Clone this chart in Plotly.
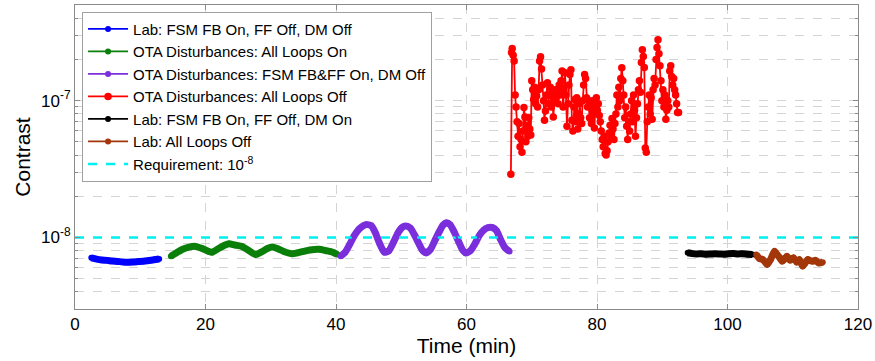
import plotly.graph_objects as go

# ---------------- data ----------------
blue_t = [2.5, 3.3, 4.1, 4.9, 5.7, 6.5, 7.3, 8.1, 8.9, 9.7, 10.5, 11.3, 12.1, 12.9]
blue_v = [7.1e-9, 6.95e-9, 6.85e-9, 6.8e-9, 6.72e-9, 6.68e-9, 6.62e-9, 6.6e-9, 6.62e-9,
          6.66e-9, 6.7e-9, 6.78e-9, 6.86e-9, 6.95e-9]

green_t = [14.7, 15.5, 16.5, 17.5, 18.5, 19.5, 20.5, 21.0, 22.0, 23.0, 23.6, 24.5, 25.6,
           26.5, 27.7, 28.5, 29.5, 30.2, 31.0, 32.0, 33.3, 34.0, 35.0, 36.0, 37.4, 38.5,
           39.5, 40.2]
green_v = [7.3e-9, 7.7e-9, 8.2e-9, 8.5e-9, 8.6e-9, 8.3e-9, 7.9e-9, 7.8e-9, 8.3e-9, 8.8e-9,
           9.0e-9, 8.8e-9, 8.6e-9, 8.1e-9, 7.5e-9, 7.8e-9, 8.3e-9, 8.5e-9, 8.3e-9, 7.9e-9,
           7.6e-9, 7.7e-9, 7.9e-9, 8.1e-9, 8.2e-9, 8.0e-9, 7.8e-9, 7.5e-9]

purple_t = [40.7, 41.4, 42.1, 42.8, 43.6, 44.6, 45.4, 46.0, 46.7, 47.4, 48.1, 48.8, 49.5,
            50.1, 50.7, 51.4, 52.0, 52.7, 53.3, 53.8, 54.5, 55.2, 55.9, 56.4, 56.9, 57.5,
            58.1, 58.8, 59.4, 59.9, 60.6, 61.3, 62.0, 62.7, 63.3, 64.0, 64.6, 65.2, 65.9,
            66.6]
purple_v = [7.3e-9, 7.8e-9, 8.9e-9, 10.3e-9, 11.6e-9, 12.4e-9, 12.2e-9, 10.9e-9, 9.0e-9,
            7.8e-9, 8.0e-9, 9.2e-9, 10.8e-9, 11.8e-9, 12.1e-9, 11.7e-9, 10.5e-9, 9.0e-9,
            8.0e-9, 7.7e-9, 8.2e-9, 9.6e-9, 11.2e-9, 12.3e-9, 12.8e-9, 12.4e-9, 11.0e-9,
            9.3e-9, 8.1e-9, 7.7e-9, 8.0e-9, 9.0e-9, 10.4e-9, 11.4e-9, 11.8e-9, 11.8e-9,
            11.2e-9, 9.7e-9, 8.4e-9, 7.9e-9]

red_t = [66.8, 66.9, 67.0, 67.15, 67.3, 67.45, 67.6, 67.75, 67.9, 68.05, 68.2, 68.35, 68.5,
         68.65, 68.8, 68.95, 69.1, 69.25, 69.4, 69.55, 69.7, 69.85, 70.0, 70.15, 70.3, 70.45,
         70.6, 70.75, 70.9, 71.05, 71.2, 71.35, 71.5, 71.65, 71.8, 71.95, 72.1, 72.25, 72.4,
         72.55, 72.7, 72.85, 73.0, 73.15, 73.3, 73.45, 73.6, 73.75, 73.9, 74.05, 74.2, 74.35,
         74.5, 74.65, 74.8, 74.95, 75.1, 75.25, 75.4, 75.55, 75.7, 75.85, 76.0, 76.15, 76.3,
         76.45, 76.6, 76.75, 76.9, 77.05, 77.2, 77.35, 77.5, 77.65, 77.8, 77.95, 78.1, 78.25,
         78.4, 78.55, 78.7, 78.85, 79.0, 79.15, 79.3, 79.45, 79.6, 79.75, 79.9, 80.05, 80.2,
         80.35, 80.5, 80.65, 80.8, 80.95, 81.1, 81.25, 81.4, 81.55, 81.7, 81.85, 82.0, 82.15,
         82.3, 82.45, 82.6, 82.75, 82.9, 83.05, 83.2, 83.35, 83.5, 83.65, 83.8, 83.95, 84.1,
         84.25, 84.4, 84.55, 84.7, 84.85, 85.0, 85.15, 85.3, 85.45, 85.6, 85.75, 85.9, 86.05,
         86.2, 86.35, 86.5, 86.65, 86.8, 86.95, 87.1, 87.25, 87.4, 87.55, 87.7, 87.85, 88.0,
         88.15, 88.3, 88.45, 88.6, 88.75, 88.9, 89.05, 89.2, 89.35, 89.5, 89.65, 89.8, 89.95,
         90.1, 90.25, 90.4, 90.55, 90.7, 90.85, 91.0, 91.15, 91.3, 91.45, 91.6, 91.75, 91.9,
         92.05, 92.2, 92.35, 92.5]
red_v_e8 = [2.9, 22.5, 24.0, 21.5, 19.5, 11.0, 9.0, 7.0, 5.5, 6.8, 4.6, 5.2, 4.2,
            6.0, 8.9, 7.6, 5.0, 6.6, 5.5, 7.5, 6.2, 5.6, 14.0, 12.0, 10.2, 12.5,
            9.5, 10.8, 9.0, 12.0, 19.5, 20.9, 17.0, 13.0, 10.0, 7.2, 8.4, 11.0, 13.5,
            9.5, 11.0, 12.5, 9.0, 11.5, 7.6, 10.0, 12.0, 10.5, 11.8, 9.5, 13.0, 11.0,
            14.0, 16.5, 9.0, 12.0, 16.0, 11.0, 6.5, 9.5, 13.0, 15.5, 16.8, 7.2, 6.0,
            9.0, 10.2, 7.0, 10.5, 6.2, 8.0, 9.5, 7.5, 6.8, 10.0, 13.0, 15.5, 14.5,
            10.5, 9.0, 10.0, 7.5, 9.5, 6.8, 10.0, 8.0, 6.3, 9.0, 10.5, 8.5, 9.5,
            7.8, 7.0, 6.0, 5.2, 4.6, 5.5, 4.1, 4.0, 4.3, 5.0, 5.8, 6.6, 5.5,
            7.4, 6.2, 5.2, 6.8, 8.0, 11.0, 9.0, 12.5, 10.0, 14.5, 17.4, 14.0, 11.0,
            7.5, 9.0, 6.5, 5.2, 7.0, 6.0, 8.0, 10.0, 7.0, 11.0, 8.5, 5.5, 7.5,
            9.5, 12.0, 14.0, 11.5, 19.0, 23.5, 21.0, 17.5, 4.5, 4.2, 7.0, 9.0, 11.0,
            8.0, 10.5, 7.3, 12.0, 14.5, 13.0, 20.0, 24.5, 27.9, 22.0, 18.0, 14.0, 10.0,
            12.0, 9.0, 11.0, 7.3, 8.5, 10.0, 9.0, 16.5, 18.0, 15.0, 13.0, 14.5, 12.0,
            11.0, 9.5, 8.2, 8.2]
red_v = [v * 1e-8 for v in red_v_e8]

black_t = [93.9, 94.6, 95.3, 96.0, 96.7, 97.4, 98.1, 98.8, 99.5, 100.2, 100.9, 101.6,
           102.3, 103.0, 103.8]
black_v = [7.73e-9, 7.62e-9, 7.58e-9, 7.6e-9, 7.55e-9, 7.57e-9, 7.6e-9, 7.58e-9, 7.55e-9,
           7.6e-9, 7.62e-9, 7.58e-9, 7.6e-9, 7.55e-9, 7.5e-9]

brown_t = [104.4, 104.9, 105.4, 106.1, 106.6, 107.2, 107.6, 108.0, 108.4, 108.7, 109.1,
           109.6, 110.1, 110.6, 111.0, 111.5, 111.9, 112.3, 112.7, 113.0, 113.5, 114.0,
           114.6]
brown_v = [7.5e-9, 7.0e-9, 6.9e-9, 6.35e-9, 6.9e-9, 7.94e-9, 7.5e-9, 7.1e-9, 6.7e-9,
           6.9e-9, 7.3e-9, 6.8e-9, 7.1e-9, 6.6e-9, 6.9e-9, 6.17e-9, 6.5e-9, 6.9e-9,
           6.75e-9, 6.7e-9, 6.8e-9, 6.5e-9, 6.6e-9]

req_t = [0, 120]
req_v = [1e-8, 1e-8]

names = ["Lab: FSM FB On, FF Off, DM Off",
         "OTA Disturbances: All Loops On",
         "OTA Disturbances: FSM FB&FF On, DM Off",
         "OTA Disturbances: All Loops Off",
         "Lab: FSM FB On, FF Off, DM On",
         "Lab: All Loops Off"]
colors = ["#0000ff", "#0a7f0a", "#7b2fdc", "#ff0000", "#000000", "#a3370a"]

series = [(blue_t, blue_v), (green_t, green_v), (purple_t, purple_v),
          (red_t, red_v), (black_t, black_v), (brown_t, brown_v)]

xticks = [0, 20, 40, 60, 80, 100, 120]
yticks = [1e-8, 1e-7]
yticklabels = ["10<sup>-8</sup>", "10<sup>-7</sup>"]
yminor = [4e-9, 5e-9, 6e-9, 7e-9, 8e-9, 9e-9, 2e-8, 3e-8, 4e-8, 5e-8, 6e-8, 7e-8,
          8e-8, 9e-8, 2e-7, 3e-7, 4e-7]

# ---------------- figure ----------------
fig = go.Figure()

# dense, thick-looking series (no legend entry)
for i, ((t, v), c) in enumerate(zip(series, colors)):
    if i == 3:
        continue
    fig.add_trace(go.Scatter(
        x=t, y=v, mode="lines", showlegend=False, hoverinfo="skip",
        line=dict(color=c, width=7, shape="spline", smoothing=0.6),
    ))

# requirement line
fig.add_trace(go.Scatter(
    x=req_t, y=req_v, mode="lines", showlegend=False, hoverinfo="skip",
    line=dict(color="#00f0f0", width=2.5, dash="dash"),
))

# legend-bearing traces (thin line + dots)
for i, ((t, v), name, c) in enumerate(zip(series, names, colors)):
    red = i == 3
    fig.add_trace(go.Scatter(
        x=t, y=v, name=name, mode="lines+markers",
        line=dict(color=c, width=1.8),
        marker=dict(color=c, size=7.5 if red else 6, line=dict(width=0)),
    ))

fig.add_trace(go.Scatter(
    x=[None], y=[None], name="Requirement: 10<sup>-8</sup>", mode="lines",
    line=dict(color="#00f0f0", width=2.5, dash="dash"),
))

axis_line = "#8a8a8a"
grid = "#d4d4d4"
fig.update_layout(
    width=875, height=361,
    margin=dict(l=75, r=17, t=5, b=52),
    paper_bgcolor="white", plot_bgcolor="white",
    font=dict(family="Liberation Sans, Arial, sans-serif", color="#000000"),
    showlegend=True,
    legend=dict(
        x=0.009, y=0.978, xanchor="left", yanchor="top",
        bgcolor="white", bordercolor="#a0a0a0", borderwidth=1,
        font=dict(size=15, family="Liberation Sans, Arial, sans-serif"),
        tracegroupgap=0, itemwidth=40,
    ),
    xaxis=dict(
        range=[0, 120], tickvals=xticks, ticktext=[str(x) for x in xticks],
        automargin=False,
        showgrid=True, gridcolor=grid, griddash="dash", gridwidth=1,
        showline=True, linecolor=axis_line, linewidth=1, mirror="ticks",
        ticks="inside", ticklen=5, tickcolor=axis_line,
        zeroline=False,
        tickfont=dict(size=17),
        title=dict(text="Time (min)", standoff=2, font=dict(size=21)),
    ),
    yaxis=dict(
        type="log", range=[-8.523, -6.301],
        automargin=False,
        tickvals=yticks, ticktext=yticklabels,
        showgrid=True, gridcolor=grid, griddash="dash", gridwidth=1,
        showline=True, linecolor=axis_line, linewidth=1, mirror="ticks",
        ticks="inside", ticklen=5, tickcolor=axis_line,
        tickfont=dict(size=17),
        title=dict(text="Contrast", standoff=4, font=dict(size=21)),
        minor=dict(tickvals=yminor, showgrid=True, gridcolor=grid, griddash="dash",
                   ticks="inside", ticklen=3, tickcolor=axis_line),
    ),
)

fig.write_html("out.html",
               config={"displayModeBar": False},
               post_script="document.body.style.margin='0';document.body.style.overflow='hidden';")
